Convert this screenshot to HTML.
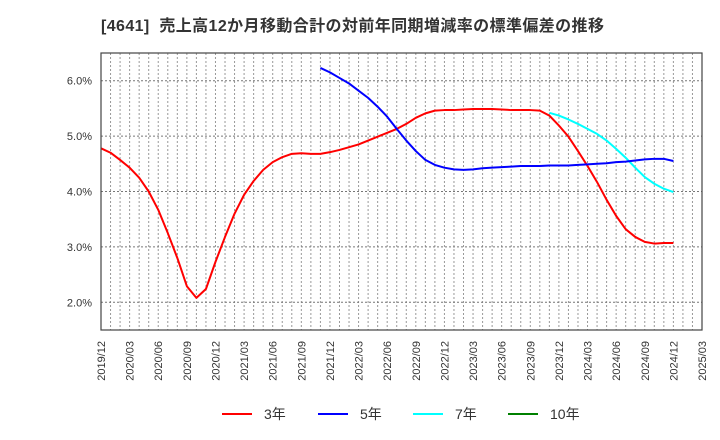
<!DOCTYPE html>
<html><head><meta charset="utf-8"><style>
body{margin:0;background:#fff;}
svg{display:block;font-family:"Liberation Sans","Noto Sans CJK JP",sans-serif;}
</style></head><body>
<svg id="chart" width="720" height="440">
<text x="101" y="31" font-size="16" letter-spacing="0.4" font-weight="bold" fill="#333" xml:space="preserve">[4641]  売上高12か月移動合計の対前年同期増減率の標準偏差の推移</text>
<g id="grid"></g><g id="series"></g><g id="axes"></g><g id="legend"></g>
</svg>
<script>
const xLabels=["2019/12","2020/03","2020/06","2020/09","2020/12","2021/03","2021/06","2021/09","2021/12","2022/03","2022/06","2022/09","2022/12","2023/03","2023/06","2023/09","2023/12","2024/03","2024/06","2024/09","2024/12","2025/03"];
const yTicks=[2.0,3.0,4.0,5.0,6.0];
const s3Start=0;
const s3=[4.78,4.70,4.57,4.43,4.25,4.0,3.67,3.25,2.80,2.29,2.08,2.24,2.73,3.18,3.60,3.94,4.19,4.39,4.53,4.62,4.68,4.69,4.68,4.68,4.71,4.75,4.80,4.85,4.92,4.99,5.06,5.13,5.22,5.33,5.41,5.46,5.47,5.47,5.48,5.49,5.49,5.49,5.48,5.47,5.47,5.47,5.46,5.37,5.19,4.99,4.73,4.46,4.17,3.85,3.56,3.32,3.18,3.09,3.06,3.07,3.07];
const s5Start=23;
const s5=[6.23,6.15,6.05,5.95,5.82,5.69,5.53,5.35,5.13,4.92,4.73,4.57,4.48,4.43,4.40,4.39,4.40,4.42,4.43,4.44,4.45,4.46,4.46,4.46,4.47,4.47,4.47,4.48,4.49,4.50,4.51,4.53,4.54,4.56,4.58,4.59,4.59,4.55];
const s7Start=47;
const s7=[5.42,5.37,5.30,5.22,5.13,5.04,4.92,4.77,4.61,4.43,4.26,4.14,4.05,3.99];
const s10=[];
const NS="http://www.w3.org/2000/svg";
const L=101,R=702,T=53,B=330,yMin=1.5,yMax=6.5,nMonths=63;
const xs=i=>L+(R-L)*i/nMonths;
const ys=v=>B-(B-T)*(v-yMin)/(yMax-yMin);
function mk(tag,attrs,parent){const e=document.createElementNS(NS,tag);for(const k in attrs)e.setAttribute(k,attrs[k]);parent.appendChild(e);return e;}
const grid=document.getElementById('grid'),axes=document.getElementById('axes'),ser=document.getElementById('series'),leg=document.getElementById('legend');
for(let i=1;i<nMonths;i++){const l=mk('line',{x1:xs(i),x2:xs(i),y1:T,y2:B,stroke:'#999','stroke-dasharray':'2,2','stroke-width':1},grid);

}
yTicks.forEach(v=>{const l=mk('line',{x1:L,x2:R,y1:ys(v),y2:ys(v),stroke:'#777','stroke-dasharray':'2,2','stroke-width':1},grid);


const t=mk('text',{x:92,y:ys(v)+4,'text-anchor':'end','font-size':11,fill:'#333'},axes);t.textContent=v.toFixed(1)+'%';

});
const fr=mk('rect',{x:L,y:T,width:R-L,height:B-T,fill:'none',stroke:'#444','stroke-width':1.2},axes);


xLabels.forEach((s,k)=>{const x=xs(k*3)+4;const t=mk('text',{x:x,y:341,'text-anchor':'end','font-size':11,fill:'#333',transform:`rotate(-90 ${x} 341)`},axes);t.textContent=s;

});
function line(arr,start,color,name){if(!arr.length)return;const p=mk('polyline',{points:arr.map((v,i)=>xs(start+i)+','+ys(v)).join(' '),fill:'none',stroke:color,'stroke-width':2,'stroke-linejoin':'round'},ser);

}
line(s3,s3Start,'#ff0000','series-3y');
line(s7,s7Start,'#00ffff','series-7y');
line(s5,s5Start,'#0000ff','series-5y');
line(s10,0,'#008000','series-10y');
[['3年','#ff0000',222],['5年','#0000ff',318],['7年','#00ffff',413],['10年','#008000',508]].forEach(([lab,c,x])=>{
const g=mk('g',{},leg);


mk('line',{x1:x,x2:x+30,y1:414,y2:414,stroke:c,'stroke-width':2},g);
const t=mk('text',{x:x+42,y:419,'font-size':14,fill:'#333'},g);t.textContent=lab;});
</script>
</body></html>
